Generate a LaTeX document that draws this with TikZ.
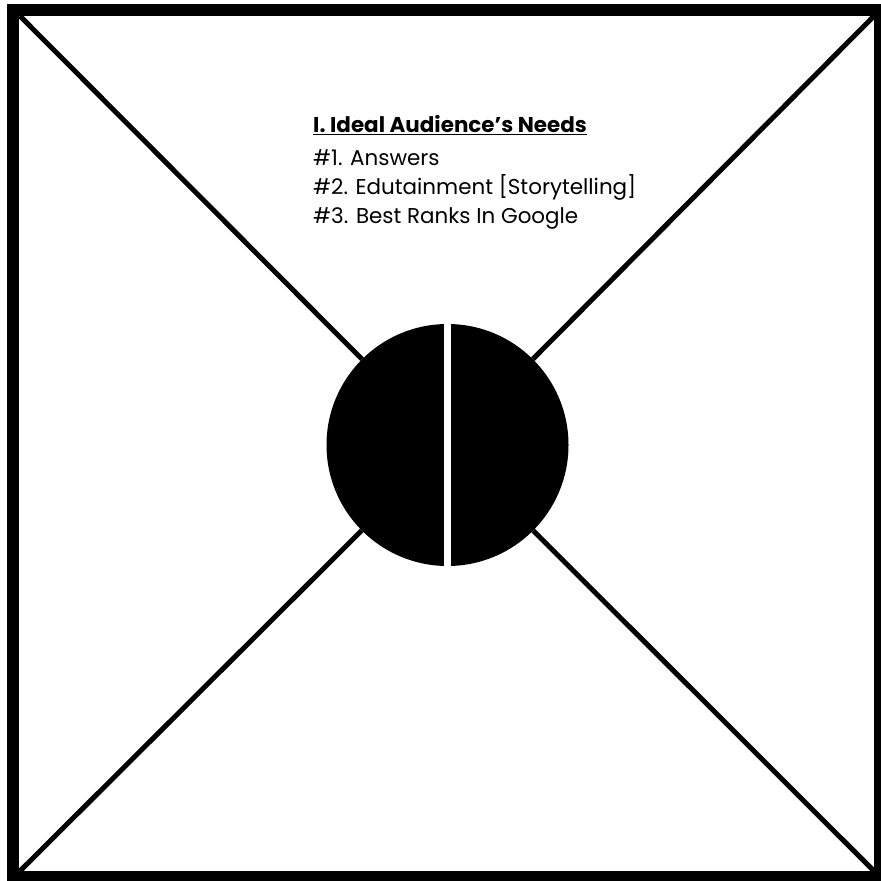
\documentclass[tikz,border=0pt]{standalone}
\usepackage{fontspec}
\setmainfont{Poppins}
\usepackage{tikz}
\usetikzlibrary{positioning,calc}
\tikzset{
  frame/.style={line width=3.6mm,black},
  spoke/.style={line width=1.5mm,black},
  hub/.style={circle,minimum size=72.6mm,inner sep=0pt},
  lab/.style={anchor=base west,inner sep=0pt,font=\fontsize{18.3pt}{22pt}\selectfont},
  every picture/.style={baseline={(current bounding box.center)}}
}
\begin{document}
\begin{tikzpicture}[x=0.3mm,y=-0.3mm]
  \useasboundingbox (0,0) rectangle (880,881);
  \draw[frame] (13,10) rectangle (880,877);

  \coordinate (tl) at (20,16);
  \coordinate (tr) at (874,16);
  \coordinate (bl) at (20,871);
  \coordinate (br) at (874,871);
  \node[hub] (c) at (447.5,445) {};
  \draw[spoke] (tl)--(c) (tr)--(c) (bl)--(c) (br)--(c);
  \fill[black] (c.center) circle[radius=121];
  \fill[white] ($(c.north)+(-3.5,-2)$) rectangle ($(c.south)+(3.5,2)$);

  \node[lab] (ttl) at (313,132) {\textbf{\underline{I. Ideal Audience’s Needs}}};
  \node[lab] (a1) at (313,165) {\#1. Answers};
  \node[lab] (a2) at (313,194) {\#2. Edutainment [Storytelling]};
  \node[lab] (a3) at (313,223) {\#3. Best Ranks In Google};
\end{tikzpicture}
\end{document}
